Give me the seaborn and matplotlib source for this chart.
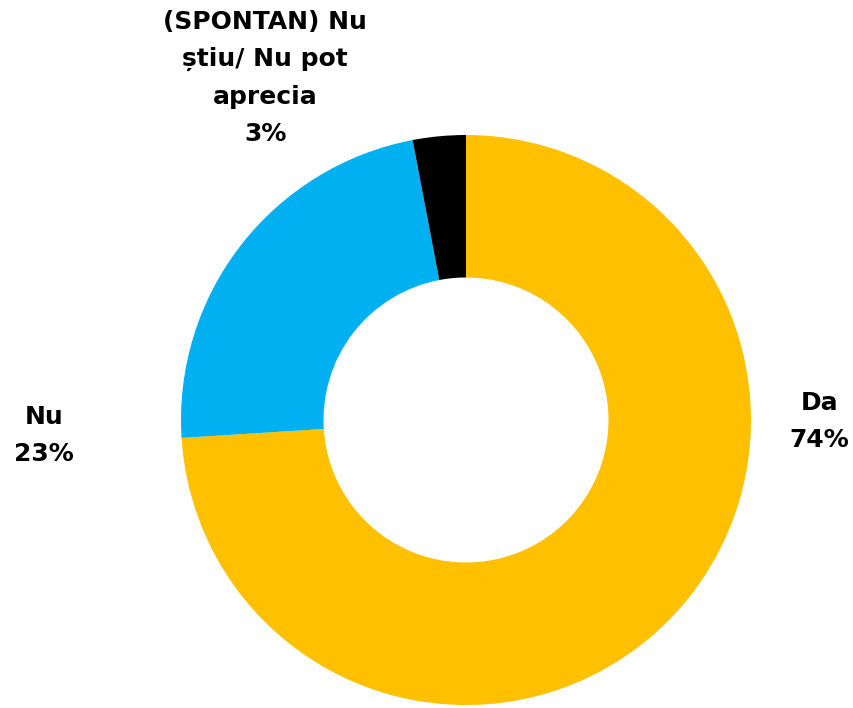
import matplotlib.pyplot as plt
import seaborn as sns

# Data
labels = ['Da', 'Nu', '(SPONTAN) Nu\nștiu/ Nu pot\naprecia']
values = [74, 23, 3]
colors = ['#FFC000', '#00B0F0', '#000000']

sns.set_theme(style='white')
plt.rcParams['font.family'] = ['DejaVu Sans']

fig = plt.figure(figsize=(8.54, 7.08), dpi=100)
ax = fig.add_axes([0, 0, 1, 1])

ax.pie(values, colors=colors, startangle=90, counterclock=False,
       radius=1, wedgeprops=dict(width=0.5, edgecolor='none'))

ax.set_xlim(-466 / 285, (854 - 466) / 285)
ax.set_ylim(-(708 - 420) / 285, 420 / 285)
ax.set_aspect('equal')
ax.axis('off')

# label positions (data units, pie radius = 1)
label_pos = [(1.24, -0.005), (-1.48, -0.055), (-0.705, 1.2)]
for lab, v, (x, y) in zip(labels, values, label_pos):
    ax.text(x, y, f'{lab}\n{v}%', ha='center', va='center',
            fontsize=18, fontweight='bold', color='black', linespacing=1.7)

fig.savefig('out.png', dpi=100)
